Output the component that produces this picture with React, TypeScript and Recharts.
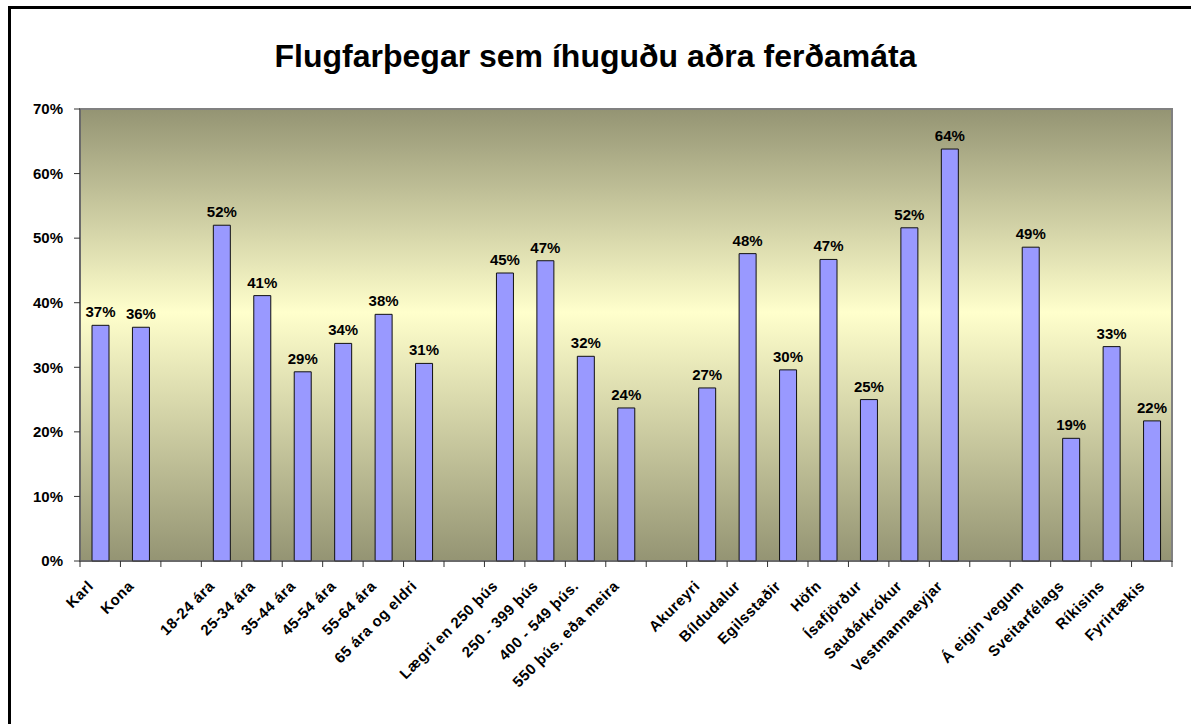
import { BarChart, Bar, XAxis, YAxis, CartesianGrid, LabelList, ReferenceArea } from 'recharts';

const CATEGORIES = [
  'Karl', 'Kona', '',
  '18-24 ára', '25-34 ára', '35-44 ára', '45-54 ára', '55-64 ára', '65 ára og eldri', '',
  'Lægri en 250 þús', '250 - 399 þús', '400 - 549 þús.', '550 þús. eða meira', '',
  'Akureyri', 'Bíldudalur', 'Egilsstaðir', 'Höfn', 'Ísafjörður', 'Sauðárkrókur', 'Vestmannaeyjar', '',
  'Á eigin vegum', 'Sveitarfélags', 'Ríkisins', 'Fyrirtækis',
];

// null = empty slot between groups
const VALUES: (number | null)[] = [
  36.5, 36.2, null,
  52.0, 41.1, 29.3, 33.7, 38.2, 30.6, null,
  44.6, 46.5, 31.7, 23.7, null,
  26.8, 47.6, 29.6, 46.7, 25.0, 51.6, 63.8, null,
  48.6, 19.0, 33.2, 21.7,
];

const Y_TICKS = [0, 10, 20, 30, 40, 50, 60, 70];

const FONT = '"Liberation Sans", Arial, sans-serif';
const PLOT_W = 1092;
const BAND = PLOT_W / CATEGORIES.length;

const chartData = CATEGORIES.map((label, i) => ({ id: i, label, value: VALUES[i] }));

const XTick = ({ x, y, payload, index }: any) => {
  const label = CATEGORIES[payload.value];
  return (
    <g transform={`translate(${x},${y})`}>
      {index === 0 && <line x1={-BAND / 2} x2={-BAND / 2} y1={-8} y2={-2} stroke="#333" />}
      <line x1={BAND / 2} x2={BAND / 2} y1={-8} y2={-2} stroke="#333" />
      <text
        transform={`translate(-6,18) rotate(-45)`}
        textAnchor="end"
        fontFamily={FONT}
        fontWeight="bold"
        fontSize={15}
        letterSpacing={0.5}
        fill="#000"
      >
        {label}
      </text>
    </g>
  );
};

export default function App() {
  return (
    <div style={{ position: 'fixed', left: 0, top: 0, width: 1191, height: 724, background: '#fff', overflow: 'hidden' }}>
      <div style={{ position: 'absolute', left: 8, top: 6, width: 1300, height: 800, borderLeft: '3px solid #000', borderTop: '3px solid #000' }} />
      <div style={{ position: 'absolute', left: 0, top: 38, width: 1191, textAlign: 'center', fontFamily: FONT, fontWeight: 'bold', fontSize: 32, color: '#000' }}>
        Flugfarþegar sem íhuguðu aðra ferðamáta
      </div>
      <div style={{ position: 'absolute', left: 0, top: 0 }}>
        <BarChart width={1191} height={724} data={chartData} margin={{ top: 109, right: 19, bottom: 0, left: 0 }} barSize={17}>
          <defs>
            <linearGradient id="bg" x1="0" y1="0" x2="0" y2="1">
              <stop offset="0%" stopColor="#949473" />
              <stop offset="45%" stopColor="#ffffcc" />
              <stop offset="100%" stopColor="#949473" />
            </linearGradient>
          </defs>
          <ReferenceArea y1={0} y2={70} fill="url(#bg)" fillOpacity={1} stroke="#808080" strokeWidth={2} />
          <CartesianGrid vertical={false} stroke="#000" strokeOpacity={1} />
          <XAxis
            dataKey="id"
            height={163}
            interval={0}
            tickLine={false}
            axisLine={{ stroke: '#555' }}
            tick={<XTick />}
          />
          <YAxis
            width={80}
            domain={[0, 70]}
            ticks={Y_TICKS}
            interval={0}
            tickMargin={11}
            tickFormatter={(v) => `${v}%`}
            axisLine={{ stroke: '#555' }}
            tickLine={{ stroke: '#333' }}
            tick={{ fill: '#000', fontFamily: FONT, fontWeight: 'bold', fontSize: 15 }}
          />
          <Bar dataKey="value" fill="#9999ff" stroke="#111" strokeWidth={1} isAnimationActive={false}>
            <LabelList
              dataKey="value"
              position="top"
              offset={8}
              formatter={(v: any) => (v == null ? '' : `${Math.round(v)}%`)}
              style={{ fill: '#000', fontFamily: FONT, fontWeight: 'bold', fontSize: 15 }}
            />
          </Bar>
        </BarChart>
      </div>
    </div>
  );
}
